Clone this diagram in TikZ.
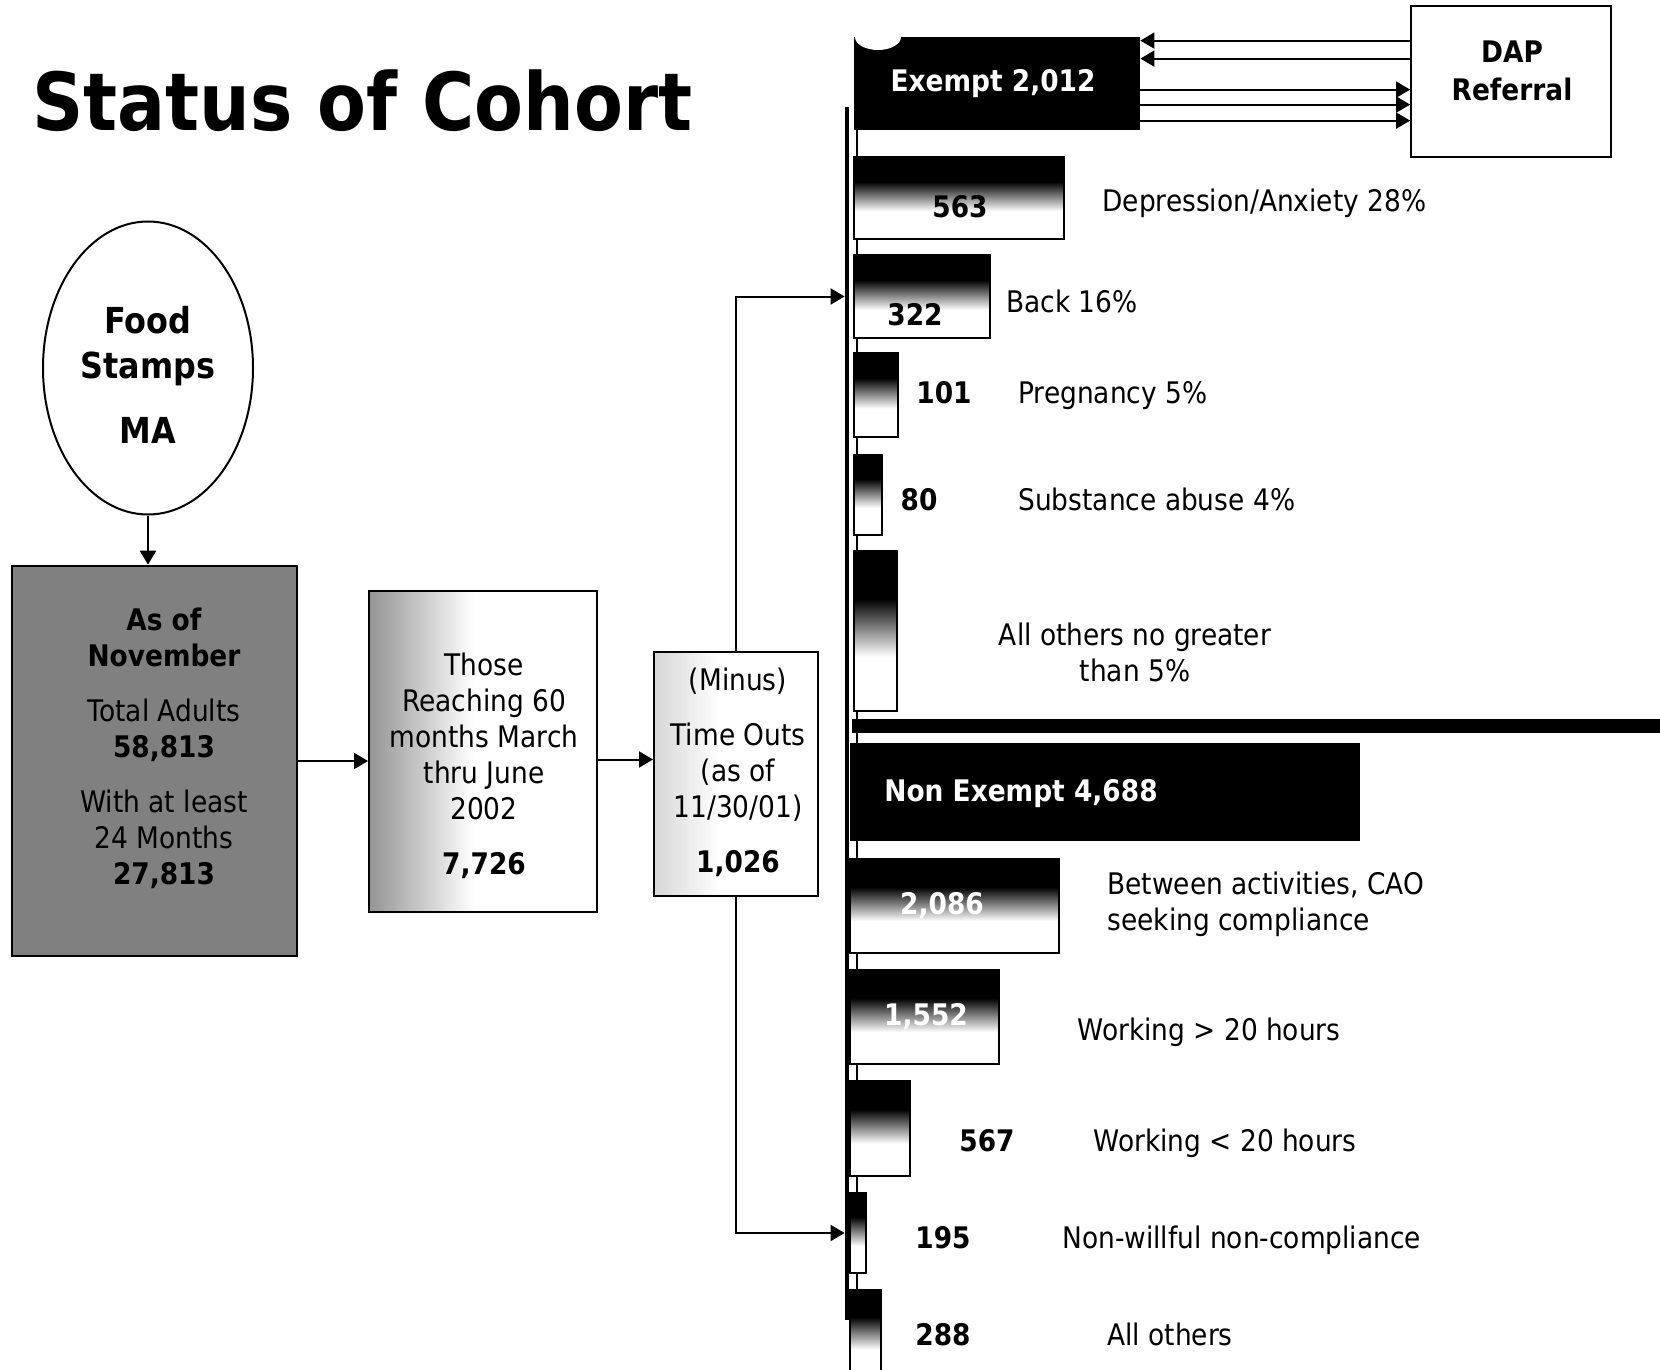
\documentclass[tikz,border=0pt]{standalone}
\usepackage{fontspec}
\setmainfont{DejaVu Sans}[FakeStretch=0.89]
\usetikzlibrary{shapes.geometric,arrows.meta,calc,fit}
\pgfdeclarehorizontalshading{fadeL}{100bp}{color(0bp)=(black!42); color(25bp)=(black!42); color(48bp)=(white); color(100bp)=(white)}
\pgfdeclarehorizontalshading{fadeLlight}{100bp}{color(0bp)=(black!16); color(25bp)=(black!16); color(45bp)=(white); color(100bp)=(white)}
\pgfdeclareverticalshading{barfade}{100bp}{color(0bp)=(white); color(25bp)=(white); color(42bp)=(white); color(60bp)=(black); color(75bp)=(black); color(100bp)=(black)}
\begin{document}
\begin{tikzpicture}[x=0.5pt,y=-0.5pt,
  conn/.style={line width=1pt,-{Triangle[length=7pt,width=8pt]}},
  box/.style={draw=black,line width=1pt,inner sep=0pt},
  catbar/.style={box,shade,shading=barfade},
  txt/.style={inner sep=0pt,font=\fontsize{14.85}{18}\selectfont},
  bnum/.style={inner sep=0pt,font=\fontsize{14.85}{18}\selectfont\bfseries},
]
\path[use as bounding box,fill=white] (0,0) rectangle (1660,1370);

% title
\node[anchor=base west,inner sep=0pt,font=\fontsize{40}{48}\selectfont\bfseries] (title) at (32,131) {Status of Cohort};

% left flow
\node[ellipse,draw,line width=1pt,minimum width=105pt,minimum height=146.5pt,inner sep=0pt] (fs) at (148,368) {};
\node[align=center,inner sep=0pt,font=\fontsize{17.9}{22.5}\selectfont\bfseries] (fstxt) at (148,375) {Food\\Stamps\\[10pt]MA};

\node[box,fill=black!50,line width=1.3pt,fit={(12,566) (297,956)}] (b1) {};
\node[txt,align=center] (b1txt) at (164,748) {\textbf{As of}\\\textbf{November}\\[9.5pt]Total Adults\\\textbf{58,813}\\[9.5pt]With at least\\24 Months\\\textbf{27,813}};

\node[box,shade,shading=fadeL,fit={(369,591) (597,912)}] (b2) {};
\node[txt,align=center] (b2txt) at (484,766) {Those\\Reaching 60\\months March\\thru June\\2002\\[9.5pt]\textbf{7,726}};

\node[box,shade,shading=fadeLlight,fit={(654,652) (818,896)}] (b3) {};
\node[txt,align=center] (b3txt) at (738,772) {(Minus)\\[9.5pt]Time Outs\\(as of\\11/30/01)\\[9.5pt]\textbf{1,026}};

\draw[conn] (fs.south) -- (fs.south |- b1.north);
\draw[conn] (b1.east) -- (b1.east -| b2.west);
\coordinate (b2o) at ($(b2.east)+(0,8)$);
\draw[conn] (b2o) -- (b2o -| b3.west);

% connector line between bars
\draw[line width=0.9pt] (857,130) -- (857,1370);

% exempt block
\node[fill=black,inner sep=0pt,fit={(854,37) (1140,130)}] (ex) {};
\fill[white] (878,37) ellipse [x radius=23,y radius=13];
\node[bnum,text=white] (extxt) at (993,84) {Exempt 2,012};

\node[box,line width=0.9pt,fit={(1411,6) (1611,157)}] (dap) {};
\node[bnum,align=center] (daptxt) at (1512,71) {DAP\\[1pt]Referral};

\coordinate (r1) at ($(ex.north east)+(0,4)$);
\coordinate (r2) at ($(ex.north east)+(0,22)$);
\coordinate (r3) at ($(ex.north east)+(0,53)$);
\coordinate (r4) at ($(ex.north east)+(0,68)$);
\coordinate (r5) at ($(ex.north east)+(0,84)$);
\draw[conn] (r1 -| dap.west) -- (r1);
\draw[conn] (r2 -| dap.west) -- (r2);
\draw[conn] (r3) -- (r3 -| dap.west);
\draw[conn] (r4) -- (r4 -| dap.west);
\draw[conn] (r5) -- (r5 -| dap.west);

\node[catbar,fit={(854,157) (1064,239)}] (c563) {};
\node[catbar,fit={(854,255) (990,338)}] (c322) {};
\node[catbar,fit={(854,353) (898,437)}] (c101) {};
\node[catbar,fit={(854,455) (882,535)}] (c80) {};
\node[catbar,fit={(854,551) (897,711)}] (cother) {};

% divider
\fill[black] (852,719) rectangle (1660,733);

% non exempt block
\node[fill=black,inner sep=0pt,fit={(850,743) (1360,841)}] (nx) {};
\node[bnum,text=white,anchor=base west] (nxtxt) at (884,801) {Non Exempt 4,688};

\node[catbar,fit={(850,859) (1059,953)}] (n2086) {};
\node[catbar,fit={(850,970) (999,1064)}] (n1552) {};
\node[catbar,fit={(850,1081) (910,1176)}] (n567) {};
\node[catbar,fit={(850,1193) (866,1273)}] (n195) {};
\node[catbar,fit={(850,1290) (881,1380)}] (n288) {};

% spine
\node[fill=black,inner sep=0pt,fit={(845,107) (848.5,1320)}] (spine) {};
\draw[conn] (b3.north) |- (spine.west |- c322.west);
\draw[conn] (b3.south) |- (spine.west |- n195.west);

% numbers
\node[bnum,anchor=base] (t563) at (960,217) {563};
\node[bnum,anchor=base] (t322) at (915,325) {322};
\node[bnum,anchor=base] (t101) at (944,403) {101};
\node[bnum,anchor=base] (t80) at (919,510) {80};
\node[bnum,anchor=base,text=white] (t2086) at (942,914) {2,086};
\node[bnum,anchor=base,text=white] (t1552) at (926,1025) {1,552};
\node[bnum,anchor=base] (t567) at (987,1151) {567};
\node[bnum,anchor=base] (t195) at (943,1248) {195};
\node[bnum,anchor=base] (t288) at (943,1345) {288};

% labels
\node[txt,anchor=base west] (l563) at (1102,212) {Depression/Anxiety 28\%};
\node[txt,anchor=base west] (l322) at (1006,312) {Back 16\%};
\node[txt,anchor=base west] (l101) at (1018,403) {Pregnancy 5\%};
\node[txt,anchor=base west] (l80) at (1018,510) {Substance abuse 4\%};
\node[txt,align=center] (lother) at (1135,652) {All others no greater\\than 5\%};
\node[txt,align=left,anchor=west] (l2086) at (1107,904) {Between activities, CAO\\seeking compliance};
\node[txt,anchor=base west] (l1552) at (1077,1040) {Working > 20 hours};
\node[txt,anchor=base west] (l567) at (1093,1151) {Working < 20 hours};
\node[txt,anchor=base west] (l195) at (1062,1248) {Non-willful non-compliance};
\node[txt,anchor=base west] (l288) at (1107,1345) {All others};
\end{tikzpicture}
\end{document}
